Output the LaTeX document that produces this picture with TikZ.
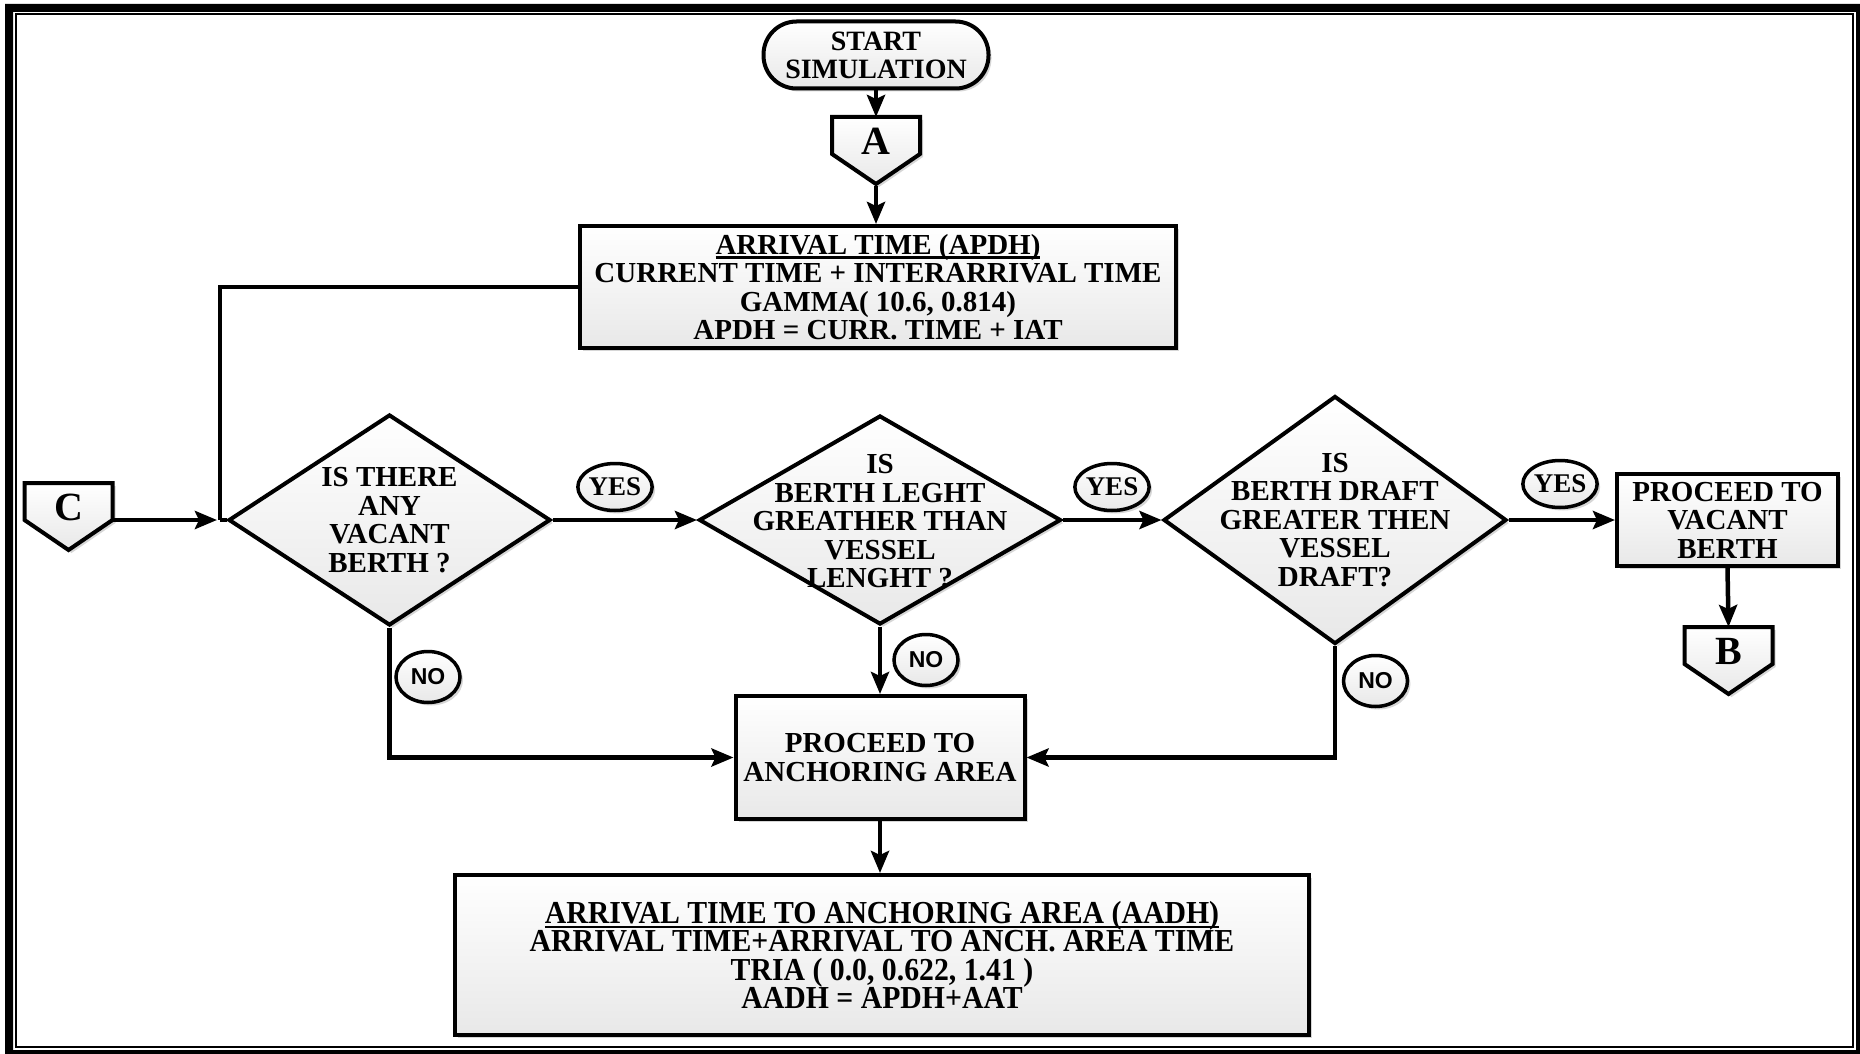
\documentclass[tikz,border=0pt]{standalone}
\usepackage{fontspec}
\setmainfont{Liberation Serif}
\newfontfamily\labelsans{Liberation Sans}
\newfontfamily\condserif[FakeStretch=0.93]{Liberation Serif}
\usetikzlibrary{shapes.geometric,shadows,arrows.meta}

% thick underline for the heading line of a process box
\newsavebox\ulbox
\newcommand\thickul[1]{\sbox\ulbox{#1}\rlap{\rule[-4.5pt]{\wd\ulbox}{2.2pt}}\usebox\ulbox}

% off-page connector: name, centre x, top y, letter
\newcommand\offpage[4]{%
  \path[draw, line width=4pt, line join=miter, softfill, softshadow]
    (#2-44,#3) -- (#2+44,#3) -- (#2+44,#3+37) -- (#2,#3+67) -- (#2-44,#3+37) -- cycle;
  \node[letterfont] (#1) at (#2,#3+24) {#4};
  \coordinate (#1-top) at (#2,#3);
  \coordinate (#1-tip) at (#2,#3+69);
  \coordinate (#1-right) at (#2+44,#3+37);
}

\begin{document}
\begin{tikzpicture}[x=1pt,y=-1pt,
  softfill/.style={top color=white, bottom color=black!9},
  softshadow/.style={drop shadow={shadow xshift=3pt, shadow yshift=-3pt, opacity=0.16, fill=black}},
  txt/.style={align=center, inner sep=0pt, font=\fontsize{29}{28.5}\selectfont\bfseries},
  procbox/.style={draw, rectangle, line width=4pt, softfill, softshadow, txt},
  decision/.style={draw, diamond, line width=4pt, line join=miter, softfill, softshadow, inner sep=0pt},
  yeslabel/.style={draw, ellipse, line width=3.5pt, softfill, softshadow, inner sep=0pt,
    minimum width=72pt, minimum height=47pt, font=\fontsize{27}{27}\selectfont\bfseries},
  nolabel/.style={draw, ellipse, line width=3.5pt, softfill, softshadow, inner sep=0pt,
    minimum width=64pt, minimum height=51pt, font=\labelsans\fontsize{23}{23}\selectfont\bfseries},
  letterfont/.style={inner sep=0pt, font=\fontsize{40}{40}\selectfont\bfseries},
  flow/.style={line width=4.5pt},
  arr/.style={flow, -{Stealth[length=22pt, width=18pt, inset=4pt]}}
]
\useasboundingbox (0,0) rectangle (1860,1054);
\fill[white] (0,0) rectangle (1860,1054);

% double page frame
\fill[black, even odd rule] (5,4) rectangle (1860,1054) (13,12) rectangle (1856,1050);
\draw[line width=2pt] (16,14) rectangle (1853,1047);

% start terminal and connector A
\node[draw, line width=4pt, rounded corners=33pt, softfill, softshadow,
  minimum width=225pt, minimum height=67pt, inner sep=0pt, align=center,
  font=\fontsize{28}{28}\selectfont\bfseries] (start) at (876,55) {START\\SIMULATION};
\offpage{A}{876}{117}{A}

% arrival process
\node[procbox, minimum width=596pt, minimum height=122pt] (box1) at (878,287)
  {\thickul{ARRIVAL TIME (APDH)}\\CURRENT TIME + INTERARRIVAL TIME\\GAMMA( 10.6, 0.814)\\APDH = CURR. TIME + IAT};

% connector C
\offpage{C}{68.5}{483}{C}
\coordinate (J) at (220,520);

% decisions
\node[decision, minimum width=322pt, minimum height=211pt] (d1) at (389.5,520) {};
\node[txt] (d1t) at (d1.center) {IS THERE\\ANY\\VACANT\\BERTH ?};
\node[decision, minimum width=362pt, minimum height=209pt] (d2) at (880,520) {};
\node[txt] (d2t) at (880,521.5) {IS\\BERTH LEGHT\\GREATHER THAN\\VESSEL\\LENGHT ?};
\node[decision, minimum width=343pt, minimum height=248pt] (d3) at (1335,520) {};
\node[txt] (d3t) at (d3.center) {IS\\BERTH DRAFT\\GREATER THEN\\VESSEL\\DRAFT?};

% outcomes
\node[procbox, minimum width=221pt, minimum height=92pt] (vac) at (1727.5,520)
  {PROCEED TO\\VACANT\\BERTH};
\offpage{B}{1728.5}{627}{B}
\node[procbox, minimum width=289pt, minimum height=123pt] (box2) at (880,757.5)
  {PROCEED TO\\ANCHORING AREA};
\node[procbox, minimum width=854pt, minimum height=160pt,
  font=\condserif\fontsize{32}{28.5}\selectfont\bfseries] (box3) at (882,955)
  {\thickul{ARRIVAL TIME TO ANCHORING AREA (AADH)}\\ARRIVAL TIME+ARRIVAL TO ANCH. AREA TIME\\TRIA ( 0.0, 0.622, 1.41 )\\AADH = APDH+AAT};

% connectors
\draw[arr] (start.south) -- (A-top);
\draw[arr] (A-tip) -- (A-tip |- box1.north);
\draw[flow] (box1.west) -| (J);
\draw[arr] (C-right) -- ([xshift=-3pt]J);
\draw[flow] (J) -- (d1.west);
\draw[arr] (d1.east) -- (d2.west);
\draw[arr] (d2.east) -- (d3.west);
\draw[arr] (d3.east) -- (vac.west);
\draw[arr] (vac.south) -- (B-top);
\draw[arr] (d1.south) |- (box2.west);
\draw[arr] (d2.south) -- (box2.north);
\draw[arr] (d3.south) |- (box2.east);
\draw[arr] (box2.south) -- (box2.south |- box3.north);

% branch labels
\node[yeslabel] (yes1) at (615,487) {YES};
\node[yeslabel] (yes2) at (1112,487) {YES};
\node[yeslabel] (yes3) at (1560,484) {YES};
\node[nolabel] (no1) at (428,677) {NO};
\node[nolabel] (no2) at (926,660) {NO};
\node[nolabel] (no3) at (1375.5,681) {NO};
\end{tikzpicture}
\end{document}
